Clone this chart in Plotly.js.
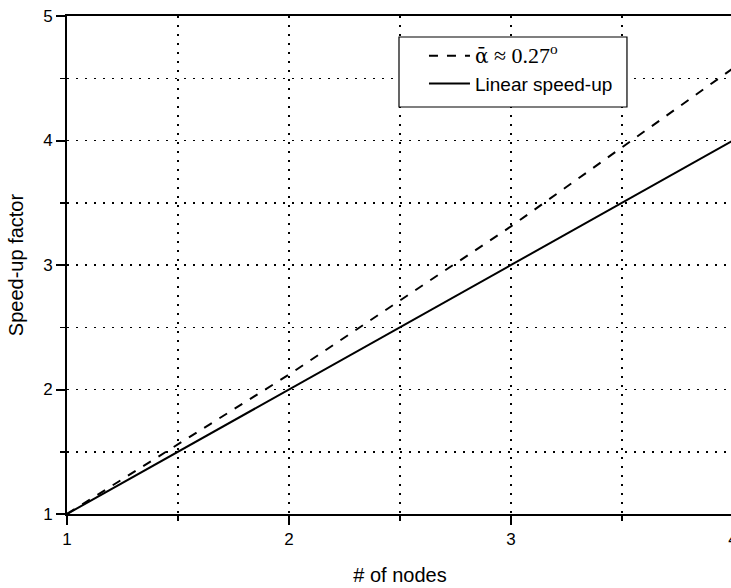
<!DOCTYPE html>
<html>
<head>
<meta charset="utf-8">
<script src="https://cdn.plot.ly/plotly-3.0.1.min.js"></script>
<style>
html, body { margin: 0; padding: 0; overflow: hidden; background: #fff; }
#chart { width: 760px; height: 588px; }
</style>
</head>
<body>
<div id="chart"></div>
<script>
// Data
const nodes = [1, 2, 3, 4];
const speedupAlpha = [1, 2.12, 3.31, 4.58];
const speedupLinear = [1, 2, 3, 4];
const xTickVals = [1, 2, 3, 4];
const yTickVals = [1, 2, 3, 4, 5];
const alphaLabel = '<span style="font-family:\'DejaVu Serif\', \'Liberation Serif\', serif;font-size:20px">ᾱ</span><span style="font-family:\'Liberation Serif\', \'Times New Roman\', serif;font-size:22px"> ≈ 0.27<sup>o</sup></span>';
const linearLabel = 'Linear speed-up';

const traces = [
  {
    x: nodes, y: speedupAlpha, mode: 'lines', name: alphaLabel,
    line: { color: '#000', width: 2, dash: '9px,9px' }
  },
  {
    x: nodes, y: speedupLinear, mode: 'lines', name: linearLabel,
    line: { color: '#000', width: 2 }
  }
];

const axisCommon = {
  showline: true, linecolor: '#000', linewidth: 2, mirror: true,
  ticks: 'outside', ticklen: 9, tickwidth: 2, tickcolor: '#000',
  showgrid: true, gridcolor: '#000', gridwidth: 1.5, griddash: '2px,7px',
  zeroline: false,
  tickfont: { family: 'Liberation Sans, Arial, sans-serif', size: 17, color: '#000' },
  minor: {
    dtick: 0.5, ticks: 'outside', ticklen: 5, tickwidth: 1.5, tickcolor: '#000',
    showgrid: true, gridcolor: '#000', gridwidth: 1.5, griddash: '2px,7px'
  }
};

const titleFont = { family: 'Liberation Sans, Arial, sans-serif', size: 20, color: '#000' };

const layout = {
  width: 760, height: 588,
  margin: { l: 67, r: 27, t: 16, b: 74 },
  paper_bgcolor: '#fff', plot_bgcolor: '#fff',
  showlegend: true,
  legend: {
    x: 0.536, y: 0.958, xanchor: 'left', yanchor: 'top',
    bgcolor: 'rgba(0,0,0,0)', borderwidth: 0,
    itemwidth: 41,
    font: { family: 'Liberation Sans, Arial, sans-serif', size: 19, color: '#000' }
  },
  shapes: [{
    type: 'rect', xref: 'paper', yref: 'paper', layer: 'above',
    x0: 0.4985, x1: 0.8408, y0: 0.8173, y1: 0.9578,
    fillcolor: '#fff', line: { color: '#000', width: 1.2 }
  }],
  xaxis: Object.assign({}, axisCommon, {
    range: [1, 4], tickvals: xTickVals,
    title: { text: '# of nodes', font: titleFont, standoff: 20 }
  }),
  yaxis: Object.assign({}, axisCommon, {
    range: [1, 5], tickvals: yTickVals,
    title: { text: 'Speed-up factor', font: titleFont, standoff: 14 }
  })
};

Plotly.newPlot('chart', traces, layout, { displayModeBar: false, staticPlot: true });
</script>
</body>
</html>
